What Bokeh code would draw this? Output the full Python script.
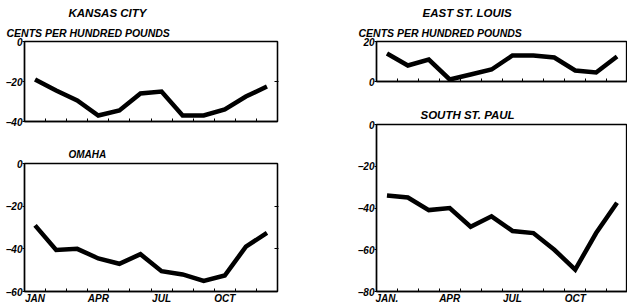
from bokeh.plotting import figure
from bokeh.layouts import row, column
from bokeh.models import FixedTicker, LinearAxis, Title, Range1d
from bokeh.embed import file_html
from bokeh.resources import INLINE

# ---- data ----
months = [1, 2, 3, 4, 5, 6, 7, 8, 9, 10, 11, 12]
month_ticks = [1, 4, 7, 10]
month_labels_left = ["JAN", "APR", "JUL", "OCT"]
month_labels_right = ["JAN.", "APR", "JUL", "OCT"]
month_bounds = [1.5, 2.5, 3.5, 4.5, 5.5, 6.5, 7.5, 8.5, 9.5, 10.5, 11.5]

kansas_city = [-19, -24.5, -29.5, -37, -34.5, -26, -25, -37, -37, -34, -27.5, -22.5]
omaha = [-29, -40.5, -40, -44.5, -47, -42.5, -50.5, -52, -55, -52.5, -39, -32.5]
east_st_louis = [14, 8, 11, 1, 3.5, 6, 13, 13, 12, 5.5, 4.5, 12.5]
south_st_paul = [-34, -35, -41, -40, -49, -44, -51, -52, -60, -69.5, -52, -37.5]

kc_yticks = [0, -20, -40]
om_yticks = [0, -20, -40, -60]
esl_yticks = [0, 20]
ssp_yticks = [0, -20, -40, -60, -80]

FONT = "Liberation Sans"


def panel(width, height, bl, br, bt, bb, yr, yticks, values, month_labels,
          right_ticks, titles):
    p = figure(width=width, height=height, output_backend="svg",
               toolbar_location=None, min_border_left=bl, min_border_right=br,
               min_border_top=bt, min_border_bottom=bb,
               x_range=Range1d(0.5, 12.5), y_range=Range1d(*yr),
               x_axis_location="below", y_axis_location="left")
    p.xgrid.visible = False
    p.ygrid.visible = False
    p.outline_line_color = "black"
    p.outline_line_width = 1.3
    p.background_fill_color = "white"
    p.border_fill_color = "white"

    xa = p.xaxis[0]
    if month_labels is None:
        xa.ticker = FixedTicker(ticks=[], minor_ticks=month_bounds)
        xa.major_label_text_font_size = "0px"
    else:
        xa.ticker = FixedTicker(ticks=month_ticks, minor_ticks=month_bounds)
        xa.major_label_overrides = {t: l for t, l in zip(month_ticks, month_labels)}
        xa.major_label_text_font_size = "10px"
    xa.major_tick_in = 0
    xa.major_tick_out = 0
    xa.minor_tick_in = 3
    xa.minor_tick_out = 0
    xa.major_label_standoff = 1
    xa.axis_line_width = 1.5
    xa.major_label_text_font = FONT
    xa.major_label_text_font_style = "bold italic"
    xa.major_label_text_color = "black"

    ya = p.yaxis[0]
    ya.ticker = FixedTicker(ticks=yticks)
    ya.minor_tick_line_color = None
    ya.major_tick_in = 0
    ya.major_tick_out = 2
    ya.major_label_standoff = 0
    ya.axis_line_width = 1.5
    ya.major_label_text_font = FONT
    ya.major_label_text_font_style = "bold italic"
    ya.major_label_text_font_size = "10px"
    ya.major_label_text_color = "black"

    if right_ticks:
        ra = LinearAxis(ticker=FixedTicker(ticks=right_ticks))
        ra.major_tick_in = 3
        ra.major_tick_out = 1
        ra.minor_tick_line_color = None
        ra.major_label_text_font_size = "0px"
        ra.major_label_standoff = 0
        ra.axis_line_width = 1.3
        p.add_layout(ra, "right")

    p.line(months, values, line_width=4.5, line_color="black",
           line_join="miter", line_cap="butt")

    # titles: listed from the frame outward
    for (txt, size, offset, standoff) in titles:
        p.add_layout(Title(text=txt, text_font=FONT,
                           text_font_style="bold italic",
                           text_font_size=size, align="left",
                           offset=offset, standoff=standoff,
                           text_color="black"), "above")
    return p


kc = panel(350, 140, 24, 73, 39, 19, (-40, 0), kc_yticks, kansas_city, None,
           [-20],
           [("CENTS PER HUNDRED POUNDS", "10.5px", -18, 5),
            ("KANSAS CITY", "11.5px", 44, 8)])
om = panel(350, 166, 24, 73, 23, 14, (-60, 0), om_yticks, omaha,
           month_labels_left, [-20, -40],
           [("OMAHA", "10px", 44, 8)])
esl = panel(277, 100, 26, 0, 39, 19, (0, 20), esl_yticks, east_st_louis, None,
            [],
            [("CENTS PER HUNDRED POUNDS", "10.5px", -18, 5),
             ("EAST ST. LOUIS", "11.5px", 46, 8)])
ssp = panel(277, 206, 26, 0, 24, 14, (-80, 0), ssp_yticks, south_st_paul,
            month_labels_right, [],
            [("SOUTH ST. PAUL", "11.5px", 44, 8)])

layout = row(column(kc, om), column(esl, ssp))

open("out.html", "w").write(file_html(layout, INLINE))
